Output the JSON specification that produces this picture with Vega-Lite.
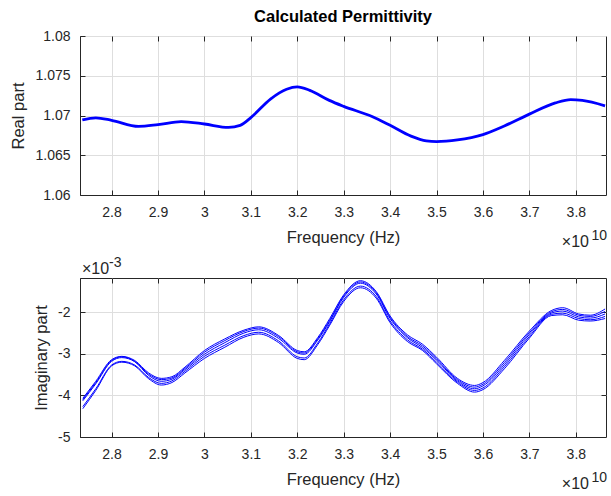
{
  "$schema": "https://vega.github.io/schema/vega-lite/v6.json",
  "background": "white",
  "padding": {"left": 10, "top": 8, "right": 4, "bottom": 0},
  "spacing": 83,
  "bounds": "flush",
  "config": {
    "font": "Liberation Sans",
    "view": {"stroke": "#262626", "strokeWidth": 1},
    "axis": {
      "labelFont": "Liberation Sans",
      "labelFontSize": 14,
      "labelColor": "#262626",
      "titleFont": "Liberation Sans",
      "titleFontSize": 16.5,
      "titleFontWeight": "normal",
      "titleColor": "#262626",
      "domainColor": "#262626",
      "tickColor": "#262626",
      "gridColor": "#dedede",
      "gridOpacity": 1,
      "tickSize": -5,
      "labelPadding": 15
    }
  },
  "datasets": {
    "realPart": [
      {"f": 2.737e10, "v": 1.06944},
      {"f": 2.766e10, "v": 1.0697},
      {"f": 2.8e10, "v": 1.0694},
      {"f": 2.858e10, "v": 1.06863},
      {"f": 2.9e10, "v": 1.06885},
      {"f": 2.95e10, "v": 1.06923},
      {"f": 3.0e10, "v": 1.06893},
      {"f": 3.052e10, "v": 1.0685},
      {"f": 3.077e10, "v": 1.06876},
      {"f": 3.1e10, "v": 1.06974},
      {"f": 3.143e10, "v": 1.0721},
      {"f": 3.177e10, "v": 1.0733},
      {"f": 3.2e10, "v": 1.0736},
      {"f": 3.227e10, "v": 1.07316},
      {"f": 3.269e10, "v": 1.0719},
      {"f": 3.3e10, "v": 1.07115},
      {"f": 3.361e10, "v": 1.06987},
      {"f": 3.4e10, "v": 1.06876},
      {"f": 3.445e10, "v": 1.0674},
      {"f": 3.478e10, "v": 1.0668},
      {"f": 3.5e10, "v": 1.06671},
      {"f": 3.545e10, "v": 1.06692},
      {"f": 3.6e10, "v": 1.0676},
      {"f": 3.646e10, "v": 1.06868},
      {"f": 3.7e10, "v": 1.07017},
      {"f": 3.756e10, "v": 1.07158},
      {"f": 3.789e10, "v": 1.072},
      {"f": 3.814e10, "v": 1.0719},
      {"f": 3.863e10, "v": 1.07122}
    ],
    "imagPart": [
      {"f": 2.738e10, "a": -4.07e-3, "b": -4.10e-3, "c": -4.13e-3, "d": -4.27e-3, "e": -4.32e-3},
      {"f": 2.766e10, "a": -3.66e-3, "b": -3.69e-3, "c": -3.72e-3, "d": -3.84e-3, "e": -3.88e-3},
      {"f": 2.8e10, "a": -3.14e-3, "b": -3.16e-3, "c": -3.18e-3, "d": -3.27e-3, "e": -3.29e-3},
      {"f": 2.822e10, "a": -3.06e-3, "b": -3.07e-3, "c": -3.09e-3, "d": -3.18e-3, "e": -3.20e-3},
      {"f": 2.85e10, "a": -3.16e-3, "b": -3.18e-3, "c": -3.19e-3, "d": -3.27e-3, "e": -3.29e-3},
      {"f": 2.88e10, "a": -3.46e-3, "b": -3.49e-3, "c": -3.52e-3, "d": -3.57e-3, "e": -3.60e-3},
      {"f": 2.907e10, "a": -3.59e-3, "b": -3.62e-3, "c": -3.66e-3, "d": -3.71e-3, "e": -3.75e-3},
      {"f": 2.93e10, "a": -3.55e-3, "b": -3.58e-3, "c": -3.61e-3, "d": -3.65e-3, "e": -3.69e-3},
      {"f": 2.958e10, "a": -3.32e-3, "b": -3.35e-3, "c": -3.38e-3, "d": -3.42e-3, "e": -3.46e-3},
      {"f": 3.0e10, "a": -2.92e-3, "b": -2.96e-3, "c": -3.01e-3, "d": -3.06e-3, "e": -3.11e-3},
      {"f": 3.044e10, "a": -2.64e-3, "b": -2.68e-3, "c": -2.73e-3, "d": -2.79e-3, "e": -2.84e-3},
      {"f": 3.085e10, "a": -2.43e-3, "b": -2.46e-3, "c": -2.50e-3, "d": -2.56e-3, "e": -2.60e-3},
      {"f": 3.117e10, "a": -2.35e-3, "b": -2.38e-3, "c": -2.42e-3, "d": -2.48e-3, "e": -2.52e-3},
      {"f": 3.16e10, "a": -2.56e-3, "b": -2.59e-3, "c": -2.63e-3, "d": -2.69e-3, "e": -2.73e-3},
      {"f": 3.2e10, "a": -2.92e-3, "b": -2.95e-3, "c": -2.98e-3, "d": -3.07e-3, "e": -3.11e-3},
      {"f": 3.215e10, "a": -2.95e-3, "b": -2.98e-3, "c": -3.01e-3, "d": -3.10e-3, "e": -3.14e-3},
      {"f": 3.244e10, "a": -2.61e-3, "b": -2.64e-3, "c": -2.67e-3, "d": -2.74e-3, "e": -2.78e-3},
      {"f": 3.27e10, "a": -2.15e-3, "b": -2.19e-3, "c": -2.22e-3, "d": -2.27e-3, "e": -2.31e-3},
      {"f": 3.3e10, "a": -1.58e-3, "b": -1.61e-3, "c": -1.64e-3, "d": -1.70e-3, "e": -1.74e-3},
      {"f": 3.336e10, "a": -1.24e-3, "b": -1.27e-3, "c": -1.30e-3, "d": -1.37e-3, "e": -1.41e-3},
      {"f": 3.37e10, "a": -1.50e-3, "b": -1.53e-3, "c": -1.56e-3, "d": -1.62e-3, "e": -1.66e-3},
      {"f": 3.4e10, "a": -2.09e-3, "b": -2.12e-3, "c": -2.15e-3, "d": -2.21e-3, "e": -2.25e-3},
      {"f": 3.437e10, "a": -2.54e-3, "b": -2.58e-3, "c": -2.61e-3, "d": -2.66e-3, "e": -2.70e-3},
      {"f": 3.47e10, "a": -2.77e-3, "b": -2.81e-3, "c": -2.85e-3, "d": -2.89e-3, "e": -2.92e-3},
      {"f": 3.5e10, "a": -3.08e-3, "b": -3.12e-3, "c": -3.15e-3, "d": -3.20e-3, "e": -3.24e-3},
      {"f": 3.545e10, "a": -3.59e-3, "b": -3.62e-3, "c": -3.65e-3, "d": -3.68e-3, "e": -3.71e-3},
      {"f": 3.582e10, "a": -3.76e-3, "b": -3.80e-3, "c": -3.84e-3, "d": -3.88e-3, "e": -3.92e-3},
      {"f": 3.6e10, "a": -3.69e-3, "b": -3.73e-3, "c": -3.77e-3, "d": -3.82e-3, "e": -3.86e-3},
      {"f": 3.646e10, "a": -3.16e-3, "b": -3.21e-3, "c": -3.26e-3, "d": -3.31e-3, "e": -3.36e-3},
      {"f": 3.7e10, "a": -2.45e-3, "b": -2.49e-3, "c": -2.53e-3, "d": -2.58e-3, "e": -2.62e-3},
      {"f": 3.747e10, "a": -1.96e-3, "b": -1.99e-3, "c": -2.02e-3, "d": -2.05e-3, "e": -2.08e-3},
      {"f": 3.772e10, "a": -1.89e-3, "b": -1.93e-3, "c": -1.97e-3, "d": -2.02e-3, "e": -2.06e-3},
      {"f": 3.806e10, "a": -2.04e-3, "b": -2.07e-3, "c": -2.11e-3, "d": -2.15e-3, "e": -2.19e-3},
      {"f": 3.831e10, "a": -2.07e-3, "b": -2.10e-3, "c": -2.14e-3, "d": -2.18e-3, "e": -2.21e-3},
      {"f": 3.863e10, "a": -1.92e-3, "b": -1.98e-3, "c": -2.04e-3, "d": -2.10e-3, "e": -2.15e-3}
    ]
  },
  "vconcat": [
    {
      "title": {
        "text": "Calculated Permittivity",
        "font": "Liberation Sans",
        "fontSize": 16.5,
        "fontWeight": "bold",
        "color": "#000000",
        "anchor": "middle",
        "offset": 4
      },
      "width": 526,
      "height": 159,
      "resolve": {"axis": {"x": "independent", "y": "independent"}},
      "layer": [
        {
          "data": {"name": "realPart"},
          "mark": {"type": "line", "color": "#0000ff", "strokeWidth": 2.8, "interpolate": "monotone"},
          "encoding": {
            "x": {
              "field": "f",
              "type": "quantitative",
              "scale": {"domain": [2.732e10, 3.865e10], "nice": false, "zero": false},
              "axis": {
                "values": [2.8e10, 2.9e10, 3.0e10, 3.1e10, 3.2e10, 3.3e10, 3.4e10, 3.5e10, 3.6e10, 3.7e10, 3.8e10],
                "labelExpr": "'' + round(datum.value / 1e9) / 10",
                "title": "Frequency (Hz)",
                "titlePadding": 10
              }
            },
            "y": {
              "field": "v",
              "type": "quantitative",
              "scale": {"domain": [1.06, 1.08], "nice": false, "zero": false},
              "axis": {
                "values": [1.06, 1.065, 1.07, 1.075, 1.08],
                "labelExpr": "format(datum.value, '.3~f')",
                "title": "Real part",
                "titlePadding": 8
              }
            }
          }
        },
        {
          "data": {"values": [{"label": "×10"}]},
          "mark": {"type": "text", "align": "right", "baseline": "alphabetic", "dx": -17, "dy": 52, "fontSize": 16, "color": "#262626"},
          "encoding": {
            "text": {"field": "label"},
            "x": {"datum": 3.865e10, "type": "quantitative", "axis": {"orient": "top", "labels": false, "title": null, "grid": false, "domain": false, "values": [2.8e10, 2.9e10, 3.0e10, 3.1e10, 3.2e10, 3.3e10, 3.4e10, 3.5e10, 3.6e10, 3.7e10, 3.8e10]}},
            "y": {"datum": 1.06, "type": "quantitative", "axis": {"orient": "right", "labels": false, "title": null, "grid": false, "domain": false, "values": [1.065, 1.07, 1.075]}}
          }
        },
        {
          "data": {"values": [{"label": "10"}]},
          "mark": {"type": "text", "align": "right", "baseline": "alphabetic", "dx": 1, "dy": 45, "fontSize": 14, "color": "#262626"},
          "encoding": {
            "text": {"field": "label"},
            "x": {"datum": 3.865e10, "type": "quantitative", "axis": null},
            "y": {"datum": 1.06, "type": "quantitative", "axis": null}
          }
        }
      ]
    },
    {
      "width": 526,
      "height": 159,
      "resolve": {"axis": {"x": "independent", "y": "independent"}},
      "layer": [
        {
          "data": {"name": "imagPart"},
          "transform": [{"fold": ["a", "b", "c", "d", "e"], "as": ["run", "v"]}],
          "mark": {"type": "line", "color": "#0000ff", "strokeWidth": 1, "interpolate": "monotone"},
          "encoding": {
            "detail": {"field": "run"},
            "x": {
              "field": "f",
              "type": "quantitative",
              "scale": {"domain": [2.732e10, 3.865e10], "nice": false, "zero": false},
              "axis": {
                "values": [2.8e10, 2.9e10, 3.0e10, 3.1e10, 3.2e10, 3.3e10, 3.4e10, 3.5e10, 3.6e10, 3.7e10, 3.8e10],
                "labelExpr": "'' + round(datum.value / 1e9) / 10",
                "title": "Frequency (Hz)",
                "titlePadding": 10
              }
            },
            "y": {
              "field": "v",
              "type": "quantitative",
              "scale": {"domain": [-0.005, -0.001175], "nice": false, "zero": false},
              "axis": {
                "values": [-0.005, -0.004, -0.003, -0.002],
                "labelExpr": "'' + round(datum.value * 1000)",
                "title": "Imaginary part",
                "titlePadding": 8
              }
            }
          }
        },
        {
          "data": {"values": [{"label": "×10"}]},
          "mark": {"type": "text", "align": "right", "baseline": "alphabetic", "dx": -17, "dy": 52, "fontSize": 16, "color": "#262626"},
          "encoding": {
            "text": {"field": "label"},
            "x": {"datum": 3.865e10, "type": "quantitative", "axis": {"orient": "top", "labels": false, "title": null, "grid": false, "domain": false, "values": [2.8e10, 2.9e10, 3.0e10, 3.1e10, 3.2e10, 3.3e10, 3.4e10, 3.5e10, 3.6e10, 3.7e10, 3.8e10]}},
            "y": {"datum": -0.005, "type": "quantitative", "axis": {"orient": "right", "labels": false, "title": null, "grid": false, "domain": false, "values": [-0.004, -0.003, -0.002]}}
          }
        },
        {
          "data": {"values": [{"label": "10"}]},
          "mark": {"type": "text", "align": "right", "baseline": "alphabetic", "dx": 1, "dy": 45, "fontSize": 14, "color": "#262626"},
          "encoding": {
            "text": {"field": "label"},
            "x": {"datum": 3.865e10, "type": "quantitative", "axis": null},
            "y": {"datum": -0.005, "type": "quantitative", "axis": null}
          }
        },
        {
          "data": {"values": [{"label": "×10"}]},
          "mark": {"type": "text", "align": "left", "baseline": "alphabetic", "dx": 2, "dy": -4, "fontSize": 16, "color": "#262626"},
          "encoding": {
            "text": {"field": "label"},
            "x": {"datum": 2.732e10, "type": "quantitative", "axis": null},
            "y": {"datum": -0.001175, "type": "quantitative", "axis": null}
          }
        },
        {
          "data": {"values": [{"label": "-3"}]},
          "mark": {"type": "text", "align": "left", "baseline": "alphabetic", "dx": 29, "dy": -11, "fontSize": 14, "color": "#262626"},
          "encoding": {
            "text": {"field": "label"},
            "x": {"datum": 2.732e10, "type": "quantitative", "axis": null},
            "y": {"datum": -0.001175, "type": "quantitative", "axis": null}
          }
        }
      ]
    }
  ]
}
